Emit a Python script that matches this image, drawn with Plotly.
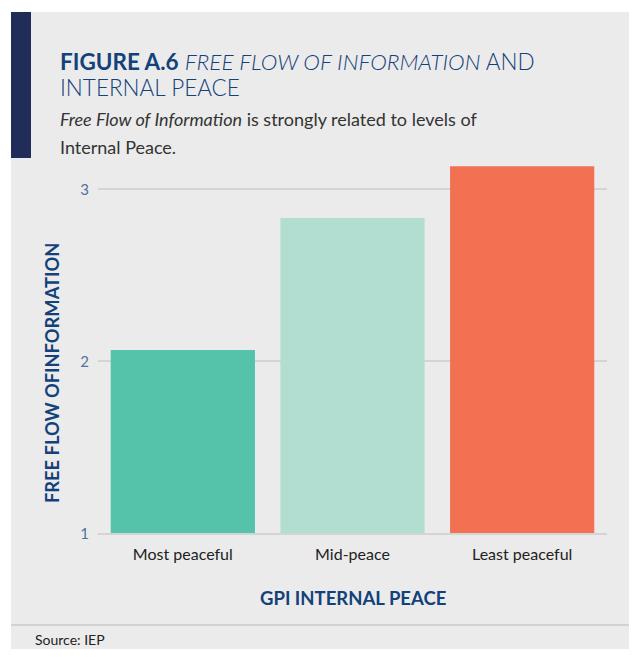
import plotly.graph_objects as go

categories = ["Most peaceful", "Mid-peace", "Least peaceful"]
values = [2.066, 2.833, 3.135]
bar_colors = ["#55c2aa", "#b2ded2", "#f27153"]
y_ticks = [1, 2, 3]

# page body has an 8px margin; keep figure small enough to avoid scrollbars
OFF = 8
W, H = 637 - 2 * OFF, 657 - 2 * OFF

def px(x):
    return (x - OFF) / W

def py(y):
    return (H - (y - OFF)) / H

NAVY = "#13417a"
FONT = "Lato"

fig = go.Figure()
fig.add_trace(go.Bar(x=categories, y=values, marker=dict(color=bar_colors, line=dict(width=0)),
                     hoverinfo="skip"))

fig.update_layout(
    width=W, height=H,
    margin=dict(l=0, r=0, t=0, b=0),
    paper_bgcolor="white",
    plot_bgcolor="rgba(0,0,0,0)",
    bargap=0.15,
    showlegend=False,
    font=dict(family=FONT),
    xaxis=dict(domain=[px(98), px(607)], showgrid=False, showline=True, linecolor="#d4d4d4",
               linewidth=1.5, tickfont=dict(size=16, color="#222222", family=FONT),
               ticklabelstandoff=6, automargin=False, fixedrange=True),
    yaxis=dict(domain=[py(533.3), py(155)], range=[1, 3.2], tickvals=y_ticks,
               ticktext=[str(v) for v in y_ticks], showgrid=True, gridcolor="#d4d4d4",
               gridwidth=1.5, zeroline=False, showline=False,
               tickfont=dict(size=15, color="#4f73a0", family=FONT),
               ticklabelstandoff=8, automargin=False, fixedrange=True),
    shapes=[
        dict(type="rect", xref="paper", yref="paper", x0=px(11), x1=1, y0=0, y1=py(12),
             fillcolor="#ebebeb", line=dict(width=0), layer="below"),
        dict(type="rect", xref="paper", yref="paper", x0=px(11), x1=px(31), y0=py(158), y1=py(12),
             fillcolor="#1f2d58", line=dict(width=0), layer="below"),
        dict(type="line", xref="paper", yref="paper", x0=px(11), x1=1, y0=py(625), y1=py(625),
             line=dict(color="#d2d2d2", width=2), layer="below"),
    ],
)

ann = []
ann.append(dict(x=px(58), y=py(46), xref="paper", yref="paper", xanchor="left", yanchor="top",
                showarrow=False, align="left",
                text="<b>FIGURE A.6</b> <i>FREE FLOW OF INFORMATION</i> AND",
                font=dict(size=22.5, color=NAVY, family=FONT, weight=300)))
ann.append(dict(x=px(58), y=py(72), xref="paper", yref="paper", xanchor="left", yanchor="top",
                showarrow=False, align="left", text="INTERNAL PEACE",
                font=dict(size=22.5, color=NAVY, family=FONT, weight=300)))
ann.append(dict(x=px(58), y=py(106), xref="paper", yref="paper", xanchor="left", yanchor="top",
                showarrow=False, align="left",
                text="<i>Free Flow of Information</i> is strongly related to levels of",
                font=dict(size=18, color="#333333", family=FONT)))
ann.append(dict(x=px(58), y=py(134), xref="paper", yref="paper", xanchor="left", yanchor="top",
                showarrow=False, align="left", text="Internal Peace.",
                font=dict(size=18, color="#333333", family=FONT)))
ann.append(dict(x=px(352.5), y=py(598), xref="paper", yref="paper", xanchor="center", yanchor="middle",
                showarrow=False, text="<b>GPI INTERNAL PEACE</b>",
                font=dict(size=18.5, color=NAVY, family=FONT)))
ann.append(dict(x=px(52), y=py(373), xref="paper", yref="paper", xanchor="center", yanchor="middle",
                showarrow=False, textangle=-90, text="<b>FREE FLOW OFINFORMATION</b>",
                font=dict(size=18.3, color=NAVY, family=FONT)))
ann.append(dict(x=px(33), y=py(639), xref="paper", yref="paper", xanchor="left", yanchor="middle",
                showarrow=False, text="Source: IEP",
                font=dict(size=14, color="#222222", family=FONT)))
fig.update_layout(annotations=ann)

fig.write_html("out.html")
